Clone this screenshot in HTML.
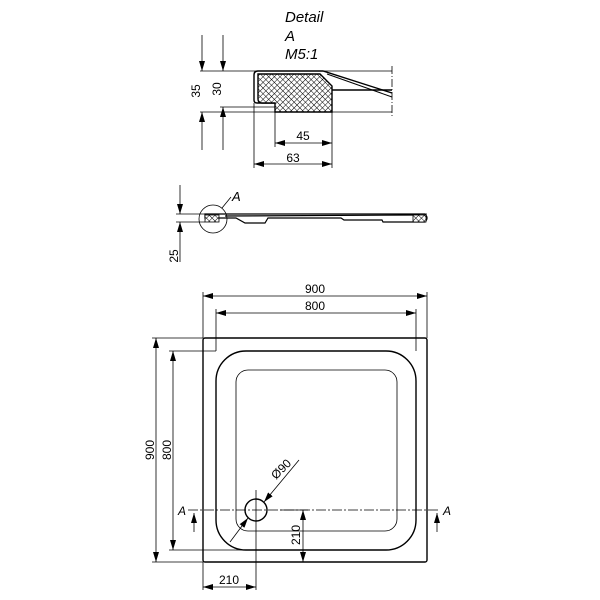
<!DOCTYPE html>
<html><head><meta charset="utf-8"><style>body{margin:0;background:#fff}svg{display:block}text{font-family:"Liberation Sans",sans-serif;fill:#000}</style></head><body>
<svg width="600" height="600" viewBox="0 0 600 600" xmlns="http://www.w3.org/2000/svg">
<defs>
<pattern id="h" width="4" height="4" patternUnits="userSpaceOnUse" patternTransform="rotate(45)">
<rect width="4" height="4" fill="#fff"/><path d="M0 0H4M0 0V4" stroke="#000" stroke-width="1"/></pattern>
<marker id="a" viewBox="0 0 10 6" refX="10" refY="3" markerWidth="10" markerHeight="6" orient="auto-start-reverse" markerUnits="userSpaceOnUse"><path d="M0 0L10 3L0 6z" fill="#000"/></marker>
</defs>
<g stroke="#000" fill="none" stroke-width="0.8">
<line x1="200" y1="71" x2="392" y2="71"/>
<line x1="200" y1="112" x2="392" y2="112"/>
<line x1="220" y1="107" x2="275" y2="107"/>
<line x1="202" y1="35" x2="202" y2="71" marker-end="url(#a)"/>
<line x1="202" y1="150" x2="202" y2="112" marker-end="url(#a)"/>
<line x1="223" y1="35" x2="223" y2="71" marker-end="url(#a)"/>
<line x1="223" y1="150" x2="223" y2="107" marker-end="url(#a)"/>
<path d="M275 103H257Q254 103 254 100V75Q254 71 258 71H323L392 93" stroke-width="1.4"/>
<path d="M327 74L392 97" stroke-width="1"/>
<path d="M258 74H320L332 86V112H275V103H262Q258 103 258 99Z" fill="url(#h)" stroke-width="1.4"/>
<line x1="332" y1="90" x2="392" y2="90" stroke-width="1.6"/>
<path d="M392 66V118" stroke-dasharray="8 2 1 2"/>
<line x1="275" y1="112" x2="275" y2="147"/>
<line x1="332" y1="112" x2="332" y2="168"/>
<line x1="254" y1="103" x2="254" y2="168"/>
<line x1="275" y1="143" x2="332" y2="143" marker-start="url(#a)" marker-end="url(#a)"/>
<line x1="254" y1="164" x2="332" y2="164" marker-start="url(#a)" marker-end="url(#a)"/>
<line x1="176" y1="214" x2="427" y2="214"/>
<line x1="176" y1="222" x2="205" y2="222"/>
<path d="M205 214H425Q429 218 425 222H383L382 220H344L341 218H268L265 223H245L236 218H205Z" stroke-width="1.2"/>
<path d="M225 216L420 215" stroke-width="1.2"/>
<rect x="205" y="215" width="14" height="7" fill="url(#h)"/>
<rect x="413" y="215" width="13" height="7" fill="url(#h)"/>
<circle cx="213" cy="219" r="14"/>
<line x1="222" y1="208" x2="231" y2="197"/>
<line x1="180" y1="185" x2="180" y2="214" marker-end="url(#a)"/>
<line x1="180" y1="262" x2="180" y2="222" marker-end="url(#a)"/>
<rect x="203" y="338" width="224" height="224" rx="2" stroke-width="1.4"/>
<rect x="216" y="351" width="200" height="199" rx="30" stroke-width="1.4"/>
<rect x="236" y="370" width="161" height="161" rx="12"/>
<circle cx="256" cy="510" r="11" stroke-width="1.4"/>
<line x1="188" y1="510" x2="440" y2="510" stroke-dasharray="10 2 2 2"/>
<line x1="256" y1="490" x2="256" y2="590"/>
<line x1="203" y1="292" x2="203" y2="338"/>
<line x1="427" y1="292" x2="427" y2="338"/>
<line x1="216" y1="309" x2="216" y2="351"/>
<line x1="416" y1="309" x2="416" y2="351"/>
<line x1="203" y1="296" x2="427" y2="296" marker-start="url(#a)" marker-end="url(#a)"/>
<line x1="216" y1="313" x2="416" y2="313" marker-start="url(#a)" marker-end="url(#a)"/>
<line x1="152" y1="338" x2="203" y2="338"/>
<line x1="152" y1="562" x2="203" y2="562"/>
<line x1="169" y1="351" x2="216" y2="351"/>
<line x1="169" y1="550" x2="256" y2="550"/>
<line x1="156" y1="338" x2="156" y2="562" marker-start="url(#a)" marker-end="url(#a)"/>
<line x1="173" y1="351" x2="173" y2="550" marker-start="url(#a)" marker-end="url(#a)"/>
<line x1="203" y1="562" x2="203" y2="590"/>
<line x1="203" y1="587" x2="256" y2="587" marker-start="url(#a)" marker-end="url(#a)"/>
<line x1="303" y1="510" x2="303" y2="562" marker-start="url(#a)" marker-end="url(#a)"/>
<line x1="280" y1="510" x2="308" y2="510"/>
<line x1="230" y1="542" x2="248" y2="518" marker-end="url(#a)"/>
<line x1="299" y1="460" x2="264" y2="502" marker-end="url(#a)"/>
<line x1="194" y1="532" x2="194" y2="513" marker-end="url(#a)"/>
<line x1="437" y1="532" x2="437" y2="513" marker-end="url(#a)"/>
</g>
<g font-size="12">
<text x="285" y="22" font-style="italic" font-size="15">Detail</text>
<text x="285" y="41" font-style="italic" font-size="15">A</text>
<text x="285" y="59" font-style="italic" font-size="15">M5:1</text>
<text transform="translate(200,91) rotate(-90)" text-anchor="middle">35</text>
<text transform="translate(221,89) rotate(-90)" text-anchor="middle">30</text>
<text x="303" y="140" text-anchor="middle">45</text>
<text x="293" y="162" text-anchor="middle">63</text>
<text x="232" y="201" font-style="italic" font-size="13">A</text>
<text transform="translate(178,256) rotate(-90)" text-anchor="middle">25</text>
<text x="315" y="293" text-anchor="middle">900</text>
<text x="315" y="310" text-anchor="middle">800</text>
<text transform="translate(154,450) rotate(-90)" text-anchor="middle">900</text>
<text transform="translate(171,450) rotate(-90)" text-anchor="middle">800</text>
<text x="229" y="584" text-anchor="middle">210</text>
<text transform="translate(300,535) rotate(-90)" text-anchor="middle">210</text>
<text transform="translate(284,472) rotate(-45)" text-anchor="middle">Ø90</text>
<text x="178" y="515" font-style="italic">A</text>
<text x="443" y="515" font-style="italic">A</text>
</g>
</svg>
</body></html>
